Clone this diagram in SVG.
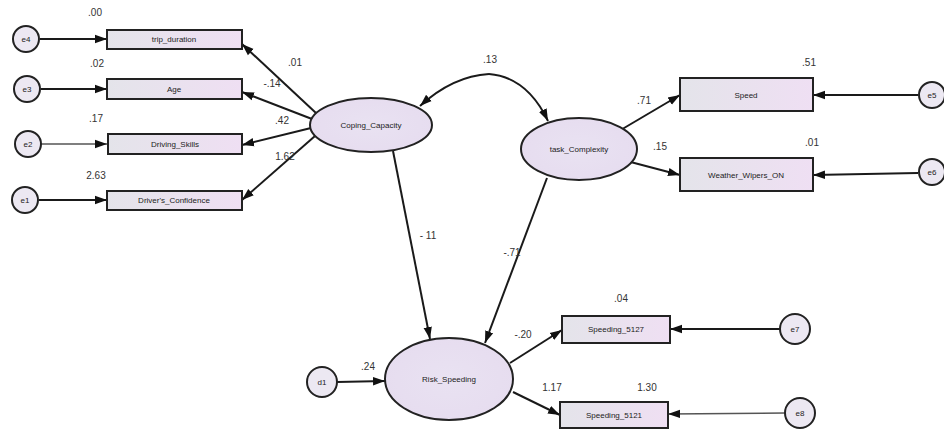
<svg xmlns="http://www.w3.org/2000/svg" width="944" height="433" viewBox="0 0 944 433">
  <defs>
    <linearGradient id="boxFill" x1="0" y1="0" x2="1" y2="0">
      <stop offset="0" stop-color="#e4e4ea"/>
      <stop offset="1" stop-color="#efdff3"/>
    </linearGradient>
    <radialGradient id="ovalFill" cx="0.5" cy="0.5" r="0.6">
      <stop offset="0" stop-color="#e9e2f2"/>
      <stop offset="1" stop-color="#e6dcef"/>
    </radialGradient>
    <marker id="arrow" viewBox="0 0 10 10" refX="10" refY="5" markerWidth="12" markerHeight="12" orient="auto-start-reverse" markerUnits="userSpaceOnUse">
      <path d="M0,1.5 L10,5 L0,8.5 z" fill="#111"/>
    </marker>
  </defs>
  <style>
    .obs rect { fill: url(#boxFill); stroke: #222; stroke-width: 2; }
    .lat ellipse { fill: url(#ovalFill); stroke: #222; stroke-width: 2; }
    .err circle { fill: #ece8f2; stroke: #222; stroke-width: 2; }
    .lbl { font-family: "Liberation Sans", Arial, sans-serif; font-size: 8px; fill: #222; text-anchor: middle; }
    .num { font-family: "Liberation Sans", Arial, sans-serif; font-size: 10px; fill: #333; text-anchor: middle; }
    .edge { fill: none; stroke: #1a1a1a; stroke-width: 2; marker-end: url(#arrow); }
    .thin { stroke: #555; stroke-width: 1.4; }
  </style>
  <rect width="944" height="433" fill="#ffffff"/>

  <!-- connectors -->
  <g id="connectors">
    <line class="edge" x1="40" y1="39" x2="107" y2="39"/>
    <line class="edge" x1="41" y1="89" x2="107" y2="89"/>
    <line class="edge thin" x1="41" y1="144" x2="107" y2="144"/>
    <line class="edge" x1="39" y1="200" x2="107" y2="200"/>
    <line class="edge" x1="316" y1="113" x2="242" y2="44"/>
    <line class="edge" x1="312" y1="119" x2="242" y2="92"/>
    <line class="edge" x1="311" y1="128" x2="242" y2="145"/>
    <line class="edge" x1="315" y1="136" x2="242" y2="200"/>
    <path class="edge" d="M489,74 Q453,76 420,106" />
    <path class="edge" d="M489,74 Q527,77 548,121" />
    <line class="edge" x1="393" y1="151" x2="430" y2="339"/>
    <line class="edge" x1="547" y1="178" x2="485" y2="343"/>
    <line class="edge" x1="619" y1="131" x2="680" y2="95"/>
    <line class="edge" x1="623" y1="160" x2="680" y2="175"/>
    <line class="edge" x1="918" y1="95" x2="813" y2="95"/>
    <line class="edge" x1="918" y1="173" x2="813" y2="175"/>
    <line class="edge" x1="510" y1="363" x2="562" y2="330"/>
    <line class="edge" x1="513" y1="392" x2="560" y2="415"/>
    <line class="edge" x1="780" y1="329" x2="670" y2="329"/>
    <line class="edge thin" x1="785" y1="413" x2="668" y2="414"/>
    <line class="edge" x1="337" y1="382" x2="385" y2="381"/>
  </g>

  <!-- observed variables -->
  <g id="trip_duration" class="obs"><rect x="107" y="30" width="135" height="19"/><text class="lbl" x="174" y="42">trip_duration</text></g>
  <g id="Age" class="obs"><rect x="107" y="79" width="135" height="20"/><text class="lbl" x="174" y="92">Age</text></g>
  <g id="Driving_Skills" class="obs"><rect x="108" y="134" width="134" height="20"/><text class="lbl" x="175" y="147">Driving_Skills</text></g>
  <g id="Drivers_Confidence" class="obs"><rect x="107" y="191" width="135" height="19"/><text class="lbl" x="174" y="203">Driver's_Confidence</text></g>
  <g id="Speed" class="obs"><rect x="680" y="78" width="133" height="33"/><text class="lbl" x="746" y="98">Speed</text></g>
  <g id="Weather_Wipers_ON" class="obs"><rect x="680" y="158" width="133" height="33"/><text class="lbl" x="746" y="178">Weather_Wipers_ON</text></g>
  <g id="Speeding_5127" class="obs"><rect x="562" y="316" width="108" height="27"/><text class="lbl" x="616" y="332">Speeding_5127</text></g>
  <g id="Speeding_5121" class="obs"><rect x="560" y="402" width="108" height="26"/><text class="lbl" x="614" y="418">Speeding_5121</text></g>

  <!-- latent variables -->
  <g id="Coping_Capacity" class="lat"><ellipse cx="371" cy="125" rx="61" ry="27"/><text class="lbl" x="371" y="128">Coping_Capacity</text></g>
  <g id="Task_Complexity" class="lat"><ellipse cx="579" cy="149" rx="58" ry="31"/><text class="lbl" x="579" y="152">task_Complexity</text></g>
  <g id="Risk_Speeding" class="lat"><ellipse cx="449" cy="379" rx="64" ry="41"/><text class="lbl" x="449" y="382">Risk_Speeding</text></g>

  <!-- error terms -->
  <g id="e4" class="err"><circle cx="26" cy="39" r="13"/><text class="lbl" x="26" y="42">e4</text></g>
  <g id="e3" class="err"><circle cx="27" cy="89" r="13"/><text class="lbl" x="27" y="92">e3</text></g>
  <g id="e2" class="err"><circle cx="28" cy="144" r="13"/><text class="lbl" x="28" y="147">e2</text></g>
  <g id="e1" class="err"><circle cx="25" cy="200" r="13"/><text class="lbl" x="25" y="203">e1</text></g>
  <g id="e5" class="err"><circle cx="932" cy="95" r="13"/><text class="lbl" x="932" y="98">e5</text></g>
  <g id="e6" class="err"><circle cx="932" cy="172" r="13"/><text class="lbl" x="932" y="175">e6</text></g>
  <g id="e7" class="err"><circle cx="795" cy="329" r="15"/><text class="lbl" x="795" y="332">e7</text></g>
  <g id="e8" class="err"><circle cx="800" cy="413" r="15"/><text class="lbl" x="800" y="416">e8</text></g>
  <g id="d1" class="err"><circle cx="322" cy="382" r="15"/><text class="lbl" x="322" y="385">d1</text></g>

  <!-- estimates -->
  <g id="estimates">
    <text class="num" x="95" y="16">.00</text>
    <text class="num" x="97" y="67">.02</text>
    <text class="num" x="96" y="122">.17</text>
    <text class="num" x="96" y="179">2.63</text>
    <text class="num" x="295" y="66">.01</text>
    <text class="num" x="272" y="87">-.14</text>
    <text class="num" x="282" y="124">.42</text>
    <text class="num" x="285" y="160">1.62</text>
    <text class="num" x="490" y="63">.13</text>
    <text class="num" x="644" y="104">.71</text>
    <text class="num" x="660" y="150">.15</text>
    <text class="num" x="809" y="66">.51</text>
    <text class="num" x="812" y="146">.01</text>
    <text class="num" x="428" y="239">- 11</text>
    <text class="num" x="512" y="256">-.71</text>
    <text class="num" x="368" y="370">.24</text>
    <text class="num" x="523" y="338">-.20</text>
    <text class="num" x="552" y="391">1.17</text>
    <text class="num" x="647" y="391">1.30</text>
    <text class="num" x="621" y="302">.04</text>
  </g>
</svg>
